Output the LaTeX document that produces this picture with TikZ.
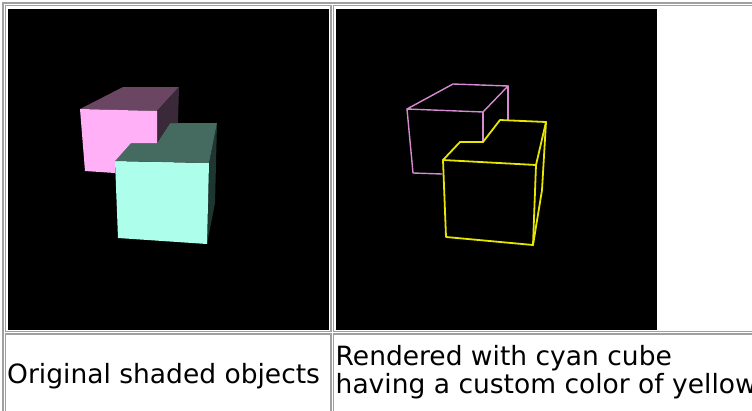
\documentclass[tikz,border=0pt]{standalone}
\usepackage{fontspec}
\setmainfont{DejaVu Sans}
\definecolor{PinkFront}{RGB}{255, 176, 246}
\definecolor{PinkTop}{RGB}{107, 70, 98}
\definecolor{PinkSide}{RGB}{58, 42, 57}
\definecolor{TealFront}{RGB}{174, 254, 236}
\definecolor{TealTop}{RGB}{69, 106, 95}
\definecolor{TealSide}{RGB}{30, 54, 48}
\definecolor{WirePink}{RGB}{214, 138, 208}
\definecolor{WireYellow}{RGB}{230, 230, 0}
\definecolor{GridGray}{RGB}{160, 160, 160}
\usetikzlibrary{positioning}

\begin{document}
\begin{tikzpicture}[x=1pt, y=-1pt, every node/.style={font=\fontsize{26.5}{28}\selectfont}, panel/.style={fill=black, inner sep=0pt, minimum width=321pt, minimum height=321pt, anchor=north west}, cellline/.style={draw=GridGray, line width=1.2pt}, wireline/.style={line width=1.4pt, line join=round, line cap=round}]
            \useasboundingbox (0,0) rectangle (752,410);

            \draw[cellline] (3,3) rectangle (760,420);
            \draw[cellline] (5.5,5.5) rectangle (331,331.5);
            \draw[cellline] (333.5,5.5) rectangle (760,331.5);
            \draw[cellline] (5.5,334) rectangle (331,420);
            \draw[cellline] (333.5,334) rectangle (760,420);

            \node[panel] (shaded) at (8,9) {};
            \node[panel] (wired) at (336,9) {};

            \fill[TealSide] (209,163) -- (217,123) -- (215,203) -- (207,244) -- cycle;
            \fill[TealFront] (115,161) -- (209,163) -- (207,244) -- (118,238) -- cycle;
            \fill[TealTop] (115,161) -- (131,143) -- (157,143) -- (170,123) -- (217,123) -- (209,163) -- cycle;
            \fill[PinkTop] (80,109) -- (123,87) -- (179,87) -- (157,111) -- cycle;
            \fill[PinkSide] (157,111) -- (179,87) -- (178,123) -- (170,123) -- (157,143) -- cycle;
            \fill[PinkFront] (80,109) -- (157,111) -- (157,143) -- (131,143) -- (115,161) -- (115,173) -- (85,171) -- cycle;

            \draw[wireline, WirePink] (407,109) -- (453,84) -- (508,86) -- (483,112) -- cycle;
            \draw[wireline, WirePink] (483,112) -- (483,142);
            \draw[wireline, WirePink] (508,86) -- (508,120);
            \draw[wireline, WirePink] (407,109) -- (413,173) -- (442,174);
            \draw[wireline, WireYellow, line width=1.8pt] (443,160) -- (460,142) -- (483,142) -- (500,120) -- (546,122) -- (536,165);
            \draw[wireline, WireYellow, line width=1.8pt] (443,160) -- (536,165) -- (533,245) -- (446,237) -- cycle;
            \draw[wireline, WireYellow, line width=1.8pt] (546,122) -- (542,190) -- (533,245);

            \node[anchor=base west, inner sep=0pt] (leftcap) at (7,383) {Original shaded objects};
            \node[anchor=base west, inner sep=0pt, align=left] (rightcap) at (335.5,393) {Rendered with cyan cube\\having a custom color of yellow};
        \end{tikzpicture}
\end{document}
